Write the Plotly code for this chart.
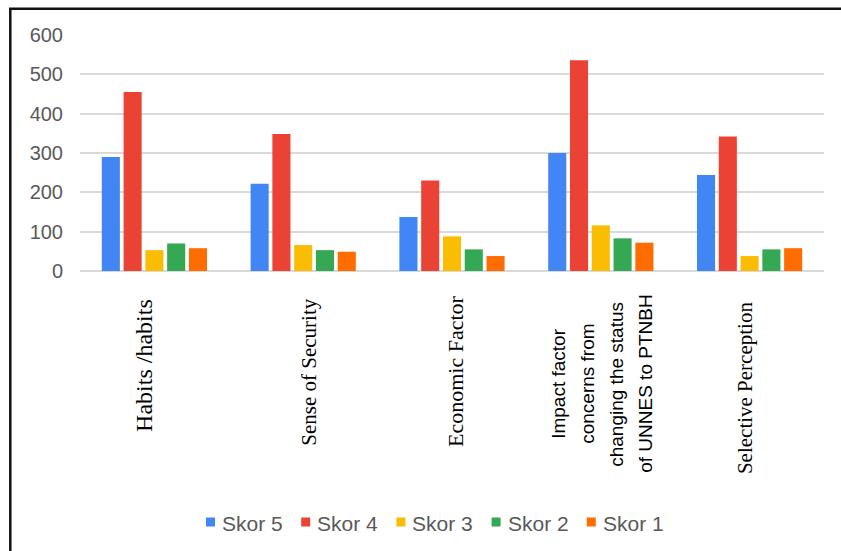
import plotly.graph_objects as go

# Survey factors (x categories) and counts per score level
categories = [
    "Habits /habits",
    "Sense of Security",
    "Economic Factor",
    "Impact factor concerns from changing the status of UNNES to PTNBH",
    "Selective Perception",
]
tick_labels = [
    ["Habits /habits"],
    ["Sense of Security"],
    ["Economic Factor"],
    ["Impact factor", "concerns from", "changing the status", "of UNNES to PTNBH"],
    ["Selective Perception"],
]
series_names = ["Skor 5", "Skor 4", "Skor 3", "Skor 2", "Skor 1"]
skor_5 = [290, 222, 137, 300, 244]
skor_4 = [455, 348, 230, 536, 342]
skor_3 = [53, 66, 88, 116, 38]
skor_2 = [70, 53, 55, 83, 55]
skor_1 = [58, 49, 38, 72, 58]
y_ticks = [0, 100, 200, 300, 400, 500, 600]

series_values = [skor_5, skor_4, skor_3, skor_2, skor_1]
colors = ["#4285F4", "#EA4335", "#FBBC04", "#34A853", "#FF6D01"]

W, H = 841, 551
M_L, M_R, M_T, M_B = 80, 17, 35, 280
plot_h = H - M_T - M_B
plot_w = W - M_L - M_R


def py(pixel_y):
    """Convert a pixel row of the page into paper y coordinates."""
    return (H - M_B - pixel_y) / plot_h


def px(pixel_x):
    return (pixel_x - M_L) / plot_w


fig = go.Figure()
for name, vals, col in zip(series_names, series_values, colors):
    fig.add_trace(go.Bar(
        x=categories, y=vals, name=name,
        marker=dict(color=col, line=dict(width=0)),
    ))

# Rotated category labels under the axis
serif = "Liberation Serif, Times New Roman, serif"
sans = "Liberation Sans, Arial, sans-serif"
label_styles = [
    dict(font=serif, size=24, xshift=-11, top=297),
    dict(font=serif, size=21, xshift=5, top=297),
    dict(font=serif, size=22, xshift=3, top=293),
    dict(font=sans, size=19, xshift=0, center=384),
    dict(font=serif, size=21, xshift=-5, top=299),
]
line_offsets = [-43, -14, 15, 44]
for cat, lines, st in zip(categories, tick_labels, label_styles):
    for i, line in enumerate(lines):
        shift = st["xshift"] + (line_offsets[i] if len(lines) > 1 else 0)
        if "center" in st:
            yv, ya = py(st["center"]), "middle"
        else:
            yv, ya = py(st["top"]), "top"
        fig.add_annotation(
            x=cat, xref="x", y=yv, yref="paper",
            text=line, textangle=-90, showarrow=False,
            xanchor="center", yanchor=ya, xshift=shift,
            font=dict(family=st["font"], size=st["size"], color="#000000"),
        )

# Legend row: small colour squares followed by series names
legend_x0, legend_pitch, legend_y, swatch = 206, 95.2, 522, 9
for i, (name, col) in enumerate(zip(series_names, colors)):
    sx = legend_x0 + i * legend_pitch
    fig.add_shape(
        type="rect", xref="paper", yref="paper",
        x0=px(sx), x1=px(sx + swatch),
        y0=py(legend_y + swatch / 2), y1=py(legend_y - swatch / 2),
        line=dict(width=0), fillcolor=col,
    )
    fig.add_annotation(
        x=px(sx + 14), xref="paper", y=py(legend_y + 1), yref="paper",
        text=name, showarrow=False, xanchor="left", yanchor="middle",
        font=dict(family=sans, size=21, color="#595959"),
    )

# Border frame around the chart
fig.add_shape(
    type="rect", xref="paper", yref="paper",
    x0=px(10.3), x1=px(W + 40), y0=py(H + 40), y1=py(8.7),
    line=dict(color="#111111", width=2.5), fillcolor="rgba(0,0,0,0)",
    layer="above",
)

fig.update_layout(
    width=W, height=H,
    margin=dict(l=M_L, r=M_R, t=M_T, b=M_B),
    paper_bgcolor="white", plot_bgcolor="white",
    barmode="group", bargap=0.268, bargroupgap=0.17,
    font=dict(family=sans, color="#595959"),
    showlegend=False,
    xaxis=dict(
        type="category", showticklabels=False, showgrid=False,
        zeroline=False, showline=False, ticks="",
    ),
    yaxis=dict(
        range=[0, 600], tickvals=y_ticks,
        showgrid=True, gridcolor="#d9d9d9", gridwidth=2,
        zeroline=True, zerolinecolor="#d9d9d9", zerolinewidth=2,
        showline=False, ticks="", ticklabelstandoff=16,
        tickfont=dict(family=sans, size=20, color="#595959"),
    ),
)

fig.write_html("out.html")
